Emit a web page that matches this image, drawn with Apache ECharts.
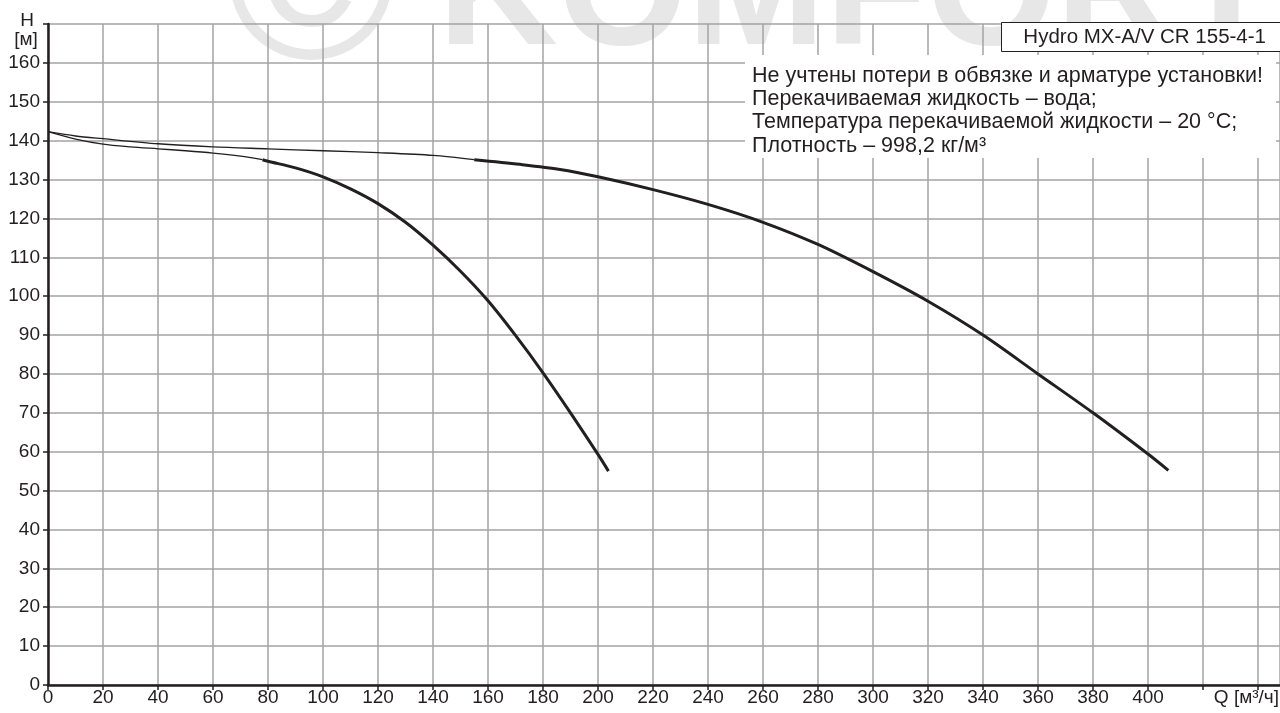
<!DOCTYPE html>
<html>
<head>
<meta charset="utf-8">
<script src="https://cdn.jsdelivr.net/npm/echarts@6/dist/echarts.min.js"></script>
<style>
html,body{margin:0;padding:0;background:#fff;}
#chart{width:1280px;height:713px;}
</style>
</head>
<body>
<div id="chart"></div>
<script>
// ---- data ----
const thinA_Q = [0, 10, 20, 30, 40, 50, 60, 70, 78];
const thinA_H = [142.3, 140.4, 139.1, 138.4, 137.9, 137.4, 136.8, 136.0, 135.1];
const thickA_Q = [78, 80, 90, 100, 110, 120, 130, 140, 150, 160, 170, 180, 190, 200, 203.8];
const thickA_H = [135.1, 134.7, 133.0, 130.7, 127.6, 123.8, 119.0, 113.1, 106.4, 98.8, 89.9, 80.3, 70.0, 59.3, 55.0];
const thinB_Q = [0, 10, 20, 40, 60, 80, 100, 120, 140, 155];
const thinB_H = [142.3, 141.2, 140.5, 139.2, 138.4, 137.9, 137.4, 136.9, 136.2, 135.1];
const thickB_Q = [155, 171.6, 186.2, 200, 220, 240, 260, 280, 300, 320, 340, 360, 380, 400, 407.4];
const thickB_H = [135.1, 133.9, 132.6, 130.7, 127.4, 123.6, 119.0, 113.3, 106.3, 98.7, 90.0, 80.0, 70.0, 59.4, 55.2];
const xLabelMax = 400;
const yLabelMax = 160;
const titleText = 'Hydro MX-A/V CR 155-4-1';
const noteLines = [
  'Не учтены потери в обвязке и арматуре установки!',
  'Перекачиваемая жидкость – вода;',
  'Температура перекачиваемой жидкости – 20 °C;',
  'Плотность – 998,2 кг/м³'
];
const yName = ['H', '[м]'];
const xName = 'Q [м³/ч]';
const watermark = ['©', 'KOMFORT'];

const pair = (qs, hs) => qs.map((q, i) => [q, hs[i]]);
const FONT = '"Liberation Sans", Arial, sans-serif';
const INK = '#231f20';

const chart = echarts.init(document.getElementById('chart'), null, {renderer: 'canvas'});

const lineSeries = (data, w) => ({
  type: 'line', data: data, smooth: 0.3, symbol: 'none', silent: true,
  lineStyle: {color: INK, width: w, cap: 'butt'}, z: 5
});

const graphics = [
  // watermark
  {type: 'text', z: -10, silent: true, style: {text: watermark[0], x: 311, y: -5, fill: '#e7e7e7', font: '230px ' + FONT, align: 'center', verticalAlign: 'middle'}},
  {type: 'text', z: -10, silent: true, style: {text: watermark[1], x: 438, y: -2, fill: '#e7e7e7', font: 'bold 166px ' + FONT, align: 'left', verticalAlign: 'middle'}},
  // axis names
  {type: 'text', z: 50, style: {text: yName[0], x: 27, y: 21, fill: INK, font: '19px ' + FONT, align: 'center', verticalAlign: 'middle'}},
  {type: 'text', z: 50, style: {text: yName[1], x: 26, y: 40, fill: INK, font: '19px ' + FONT, align: 'center', verticalAlign: 'middle'}},
  {type: 'text', z: 50, style: {text: xName, x: 1279, y: 698, fill: INK, font: '19px ' + FONT, align: 'right', verticalAlign: 'middle'}},
  // title box
  {type: 'rect', z: 50, shape: {x: 1001.5, y: 22.5, width: 300, height: 29}, style: {fill: '#fff', stroke: INK, lineWidth: 1}},
  {type: 'text', z: 51, style: {text: titleText, x: 1266, y: 37, fill: INK, font: '20.5px ' + FONT, align: 'right', verticalAlign: 'middle'}},
  // notes box
  {type: 'rect', z: 50, shape: {x: 745, y: 55, width: 531, height: 103}, style: {fill: '#fff'}}
];
noteLines.forEach((t, i) => {
  graphics.push({type: 'text', z: 51, style: {text: t, x: 752, y: 76 + i * 23.2, fill: INK, font: '21.5px ' + FONT, align: 'left', verticalAlign: 'middle'}});
});

chart.setOption({
  animation: false,
  backgroundColor: '#fff',
  grid: {left: 48, right: 0, top: 24, bottom: 28, containLabel: false},
  xAxis: {
    type: 'value', min: 0, max: 448, interval: 20,
    axisLine: {show: true, onZero: false, lineStyle: {color: INK, width: 2.5}},
    axisTick: {show: true, length: 5, lineStyle: {color: INK, width: 1.5}},
    axisLabel: {color: INK, fontSize: 19, fontFamily: FONT, margin: 3,
      showMaxLabel: false,
      formatter: v => (v <= xLabelMax ? String(v) : '')},
    splitLine: {show: true, lineStyle: {color: '#a3a3a3', width: 1.5}}
  },
  yAxis: {
    type: 'value', min: 0, max: 170, interval: 10,
    axisLine: {show: true, lineStyle: {color: INK, width: 2.5}},
    axisTick: {show: true, length: 5, lineStyle: {color: INK, width: 1.5}},
    axisLabel: {color: INK, fontSize: 19, fontFamily: FONT, margin: 8,
      formatter: v => (v <= yLabelMax ? String(v) : '')},
    splitLine: {show: true, lineStyle: {color: '#a3a3a3', width: 1.5}}
  },
  graphic: graphics,
  series: [
    lineSeries(pair(thinA_Q, thinA_H), 1.3),
    lineSeries(pair(thickA_Q, thickA_H), 3),
    lineSeries(pair(thinB_Q, thinB_H), 1.3),
    lineSeries(pair(thickB_Q, thickB_H), 3)
  ]
});
</script>
</body>
</html>
